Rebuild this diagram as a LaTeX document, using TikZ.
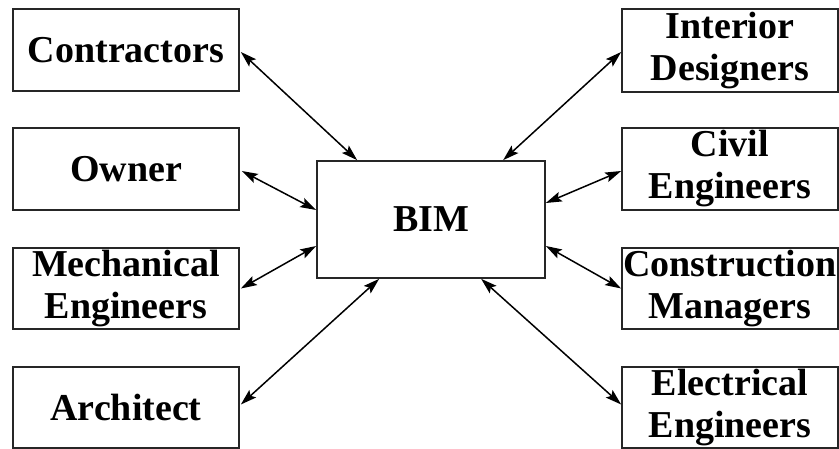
\documentclass[tikz,border=0pt]{standalone}
\usepackage{fontspec}
\setmainfont{Liberation Serif}
\usetikzlibrary{arrows.meta,calc}
\begin{document}
\begin{tikzpicture}[x=1pt,y=-1pt,
  box/.style={draw=black!85,line width=1.7pt,rectangle,inner sep=0pt,align=center,
    font=\fontsize{38}{42}\selectfont\bfseries},
  link/.style={line width=1.5pt,{Stealth[length=16pt,width=10pt,inset=3pt]}-{Stealth[length=16pt,width=10pt,inset=3pt]}}]
\useasboundingbox (0,0) rectangle (839,449);
\fill[white] (0,0) rectangle (839,449);
\node[box,minimum width=226pt,minimum height=82pt] (contr) at (126,50) {Contractors};
\node[box,minimum width=226pt,minimum height=82pt] (owner) at (126,169) {Owner};
\node[box,minimum width=226pt,minimum height=81pt] (mech) at (126,288.5) {Mechanical\\Engineers};
\node[box,minimum width=226pt,minimum height=81pt] (arch) at (126,407.5) {Architect};
\node[box,minimum width=216pt,minimum height=83pt] (inter) at (730,50.5) {Interior\\Designers};
\node[box,minimum width=216pt,minimum height=82pt] (civil) at (730,169) {Civil\\Engineers};
\node[box,minimum width=216pt,minimum height=81pt] (cons) at (730,288.5) {Construction\\Managers};
\node[box,minimum width=216pt,minimum height=81pt] (elec) at (730,407.5) {Electrical\\Engineers};
\node[box,minimum width=228pt,minimum height=117pt] (bim) at (431,219.5) {BIM};
\draw[link] ($(contr.east)+(1,2)$) -- ($(bim.north west)+(41,0)$);
\draw[link] ($(owner.east)+(2,2)$) -- ($(bim.west)+(0,-9.5)$);
\draw[link] ($(mech.east)+(1,0)$) -- ($(bim.west)+(0,26.5)$);
\draw[link] ($(arch.east)+(1,-3)$) -- ($(bim.south west)+(63,0)$);
\draw[link] ($(inter.west)+(0,1.5)$) -- ($(bim.north west)+(187,0)$);
\draw[link] ($(civil.west)+(0,2)$) -- ($(bim.east)+(0,-16.5)$);
\draw[link] ($(cons.west)+(0,0)$) -- ($(bim.east)+(0,26.5)$);
\draw[link] ($(elec.west)+(0,-3)$) -- ($(bim.south west)+(165,0)$);
\end{tikzpicture}
\end{document}
